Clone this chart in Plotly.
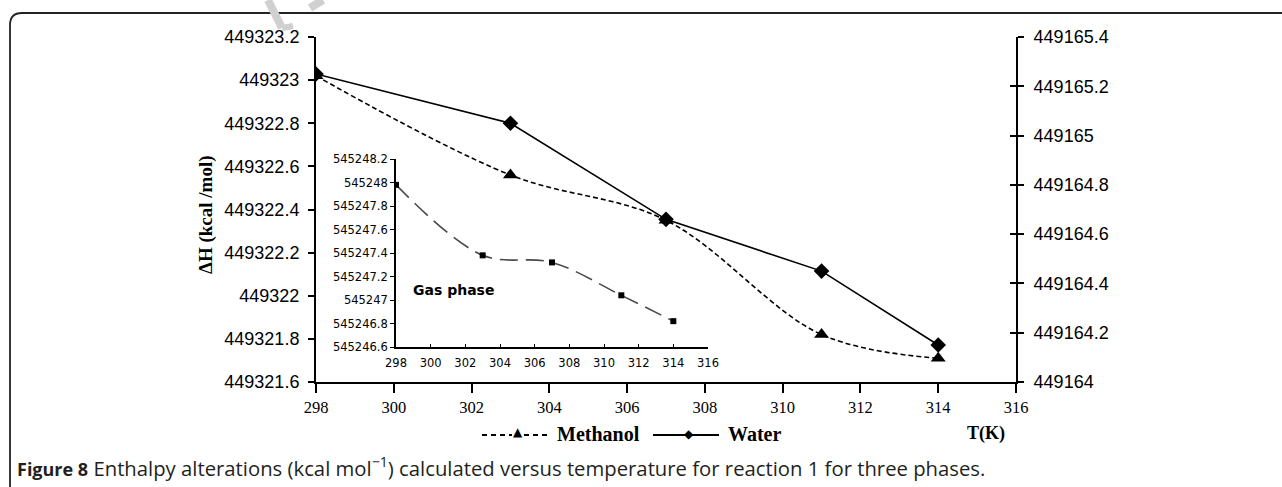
import plotly.graph_objects as go

W, H = 1282, 487

# ---------------- data ----------------
temps = [298, 303, 307, 311, 314]
methanol = [449323.02, 449322.56, 449322.35, 449321.82, 449321.71]   # left axis
water = [449165.25, 449165.05, 449164.66, 449164.45, 449164.15]      # right axis
gas = [545247.98, 545247.38, 545247.32, 545247.04, 545246.82]        # inset

x_ticks = [298, 300, 302, 304, 306, 308, 310, 312, 314, 316]
left_ticks = [449321.6, 449321.8, 449322.0, 449322.2, 449322.4, 449322.6, 449322.8, 449323.0, 449323.2]
left_text = ["449321.6", "449321.8", "449322", "449322.2", "449322.4", "449322.6", "449322.8", "449323", "449323.2"]
right_ticks = [449164.0, 449164.2, 449164.4, 449164.6, 449164.8, 449165.0, 449165.2, 449165.4]
right_text = ["449164", "449164.2", "449164.4", "449164.6", "449164.8", "449165", "449165.2", "449165.4"]
inset_ticks = [545246.6, 545246.8, 545247.0, 545247.2, 545247.4, 545247.6, 545247.8, 545248.0, 545248.2]
inset_text = ["545246.6", "545246.8", "545247", "545247.2", "545247.4", "545247.6", "545247.8", "545248", "545248.2"]
series_names = ["Methanol", "Water"]


def px(x):
    return x / W


def py(y):
    return 1 - y / H


fig = go.Figure()

fig.add_trace(go.Scatter(
    x=temps, y=methanol, name=series_names[0], xaxis="x", yaxis="y",
    mode="lines+markers", showlegend=False,
    line=dict(color="black", width=1.6, dash="5px,3px", shape="spline", smoothing=1.0),
    marker=dict(symbol="triangle-up", size=13, color="black"),
))
fig.add_trace(go.Scatter(
    x=temps, y=water, name=series_names[1], xaxis="x", yaxis="y2",
    mode="lines+markers", showlegend=False,
    line=dict(color="black", width=1.6),
    marker=dict(symbol="diamond", size=12, color="black"),
))
fig.add_trace(go.Scatter(
    x=temps, y=gas, name="Gas phase", xaxis="x2", yaxis="y3",
    mode="lines+markers", showlegend=False,
    line=dict(color="#4a4a4a", width=1.6, dash="18px,8px", shape="spline", smoothing=1.0),
    marker=dict(symbol="square", size=6, color="black"),
))
# dummy trace so the crossing-tick overlay axis is rendered
fig.add_trace(go.Scatter(x=[None], y=[None], xaxis="x", yaxis="y4", showlegend=False, hoverinfo="skip"))

tickfont_num = dict(family="Liberation Sans", size=18, color="black")

fig.update_layout(
    width=W, height=H,
    margin=dict(l=0, r=0, t=0, b=0, pad=0, autoexpand=False),
    paper_bgcolor="white",
    plot_bgcolor="rgba(0,0,0,0)",
    showlegend=False,
    xaxis=dict(
        domain=[px(316), px(1016)], range=[298, 316], anchor="y",
        tickvals=x_ticks, ticktext=[str(v) for v in x_ticks],
        ticks="outside", ticklen=9, tickwidth=1.5, tickcolor="black",
        showline=True, linecolor="black", linewidth=2,
        showgrid=False, zeroline=False, ticklabelstandoff=0,
        tickfont=dict(family="Liberation Serif", size=16.5, color="black"),
    ),
    yaxis=dict(
        domain=[py(382), py(37)], range=[449321.6, 449323.2], anchor="x",
        tickvals=left_ticks, ticktext=left_text,
        ticks="outside", ticklen=6, tickwidth=1.5, tickcolor="black",
        showline=True, linecolor="black", linewidth=2,
        showgrid=False, zeroline=False, tickfont=tickfont_num,
        ticklabelstandoff=5,
    ),
    yaxis2=dict(
        overlaying="y", side="right", anchor="x", range=[449164.0, 449165.4],
        tickvals=right_ticks, ticktext=right_text,
        ticks="outside", ticklen=6, tickwidth=1.5, tickcolor="black",
        showline=True, linecolor="black", linewidth=2,
        showgrid=False, zeroline=False, tickfont=tickfont_num,
        ticklabelstandoff=6,
    ),
    yaxis4=dict(
        overlaying="y", side="right", anchor="x", range=[449164.0, 449165.4],
        tickvals=right_ticks, showticklabels=False,
        ticks="inside", ticklen=6, tickwidth=1.5, tickcolor="black",
        showline=False, showgrid=False, zeroline=False,
    ),
    xaxis2=dict(
        domain=[px(396), px(708)], range=[298, 316], anchor="y3",
        tickvals=x_ticks, ticktext=[str(v) for v in x_ticks],
        ticks="inside", ticklen=3, tickwidth=1.2, tickcolor="black",
        showline=True, linecolor="black", linewidth=1.8,
        showgrid=False, zeroline=False, ticklabelstandoff=4,
        tickfont=dict(family="DejaVu Sans", size=11.5, color="black"),
    ),
    yaxis3=dict(
        domain=[py(347), py(159)], range=[545246.6, 545248.2], anchor="x2",
        tickvals=inset_ticks, ticktext=inset_text,
        ticks="outside", ticklen=4, tickwidth=1.2, tickcolor="black",
        showline=True, linecolor="black", linewidth=1.8,
        showgrid=False, zeroline=False,
        tickfont=dict(family="DejaVu Sans", size=11.5, color="black"),
    ),
)

legend_font = dict(family="Liberation Serif", size=20, color="black", weight="bold")


def ann(text, x, y, font, xanchor="center", yanchor="middle", **kw):
    return dict(text=text, x=px(x), y=py(y), xref="paper", yref="paper",
                xanchor=xanchor, yanchor=yanchor, showarrow=False, font=font, **kw)


annotations = [
    ann("ΔH (kcal /mol)", 206, 215,
        dict(family="Liberation Serif", size=19, color="black", weight="bold"), textangle=-90),
    ann("T(K)", 986, 433, dict(family="Liberation Serif", size=18, color="black", weight="bold")),
    ann("Gas phase", 411, 290, dict(family="DejaVu Sans", size=14, color="black", weight="bold"),
        xanchor="left"),
    # legend (manual, to match the reference's spacing)
    ann("▲", 518, 432, dict(family="DejaVu Sans", size=12, color="black")),
    ann(series_names[0], 555, 434, legend_font, xanchor="left"),
    ann("◆", 689, 434, dict(family="DejaVu Sans", size=12, color="black")),
    ann(series_names[1], 726, 434, legend_font, xanchor="left"),
    ann("<b><span style='font-size:18px'>Figure 8</span></b> Enthalpy alterations (kcal mol<sup>−1</sup>) calculated versus temperature for reaction 1 for three phases.",
        15, 467, dict(family="Open Sans", size=20.3, color="#231f20"), xanchor="left"),
]
fig.update_layout(annotations=annotations)

# frame with rounded top-left corner
r = 12
frame_path = (f"M {px(10)},{py(H + 5)} L {px(10)},{py(13 + r)} "
              f"Q {px(10)},{py(13)} {px(10 + r)},{py(13)} L {px(W + 5)},{py(13)}")
shapes = [
    dict(type="path", path=frame_path, xref="paper", yref="paper",
         line=dict(color="#222222", width=1.8)),
    # legend samples
    dict(type="line", x0=px(482), y0=py(435), x1=px(512), y1=py(435), xref="paper", yref="paper",
         line=dict(color="black", width=2, dash="5px,4px")),
    dict(type="line", x0=px(524), y0=py(435), x1=px(548), y1=py(435), xref="paper", yref="paper",
         line=dict(color="black", width=2, dash="5px,4px")),
    dict(type="line", x0=px(653), y0=py(435), x1=px(719), y1=py(435), xref="paper", yref="paper",
         line=dict(color="black", width=2)),
    # faint watermark fragments
    dict(type="line", x0=px(268), y0=py(0), x1=px(282), y1=py(28), xref="paper", yref="paper",
         line=dict(color="#d0d0d0", width=8)),
    dict(type="line", x0=px(282), y0=py(28), x1=px(293), y1=py(26), xref="paper", yref="paper",
         line=dict(color="#d0d0d0", width=6)),
    dict(type="line", x0=px(310), y0=py(8), x1=px(323), y1=py(0), xref="paper", yref="paper",
         line=dict(color="#d0d0d0", width=8)),
]
fig.update_layout(shapes=shapes)

fig.write_html("out.html")
